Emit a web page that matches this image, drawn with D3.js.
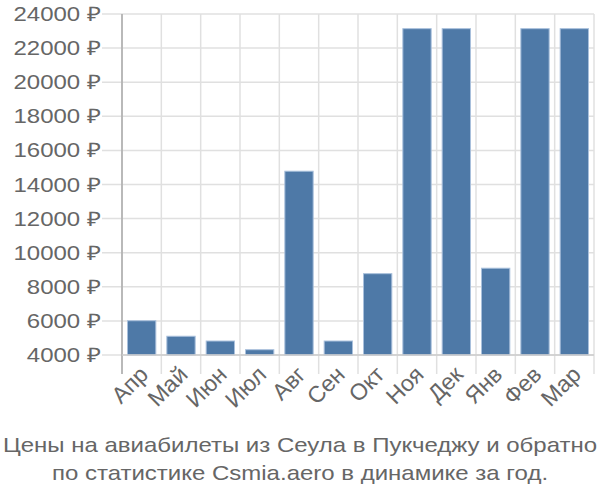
<!DOCTYPE html>
<html><head><meta charset="utf-8">
<script src="https://cdn.jsdelivr.net/npm/d3@7"></script>
<style>body{margin:0;background:#fff}svg{display:block}text{font-family:"Liberation Sans",Arial,sans-serif}</style>
</head><body><svg id="c" width="600" height="500"></svg>
<script>
const months = ["Апр","Май","Июн","Июл","Авг","Сен","Окт","Ноя","Дек","Янв","Фев","Мар"];
const prices = [6010, 5100, 4820, 4310, 14780, 4820, 8770, 23140, 23140, 9090, 23140, 23140];
const yTicks = [4000,6000,8000,10000,12000,14000,16000,18000,20000,22000,24000];
const titleLines = ["Цены на авиабилеты из Сеула в Пукчеджу и обратно","по статистике Csmia.aero в динамике за год."];

const svg = d3.select("#c");
const L=122, R=594, T=14, B=355;
const x = d3.scaleBand().domain(months).range([L,R]).paddingInner(0.28).paddingOuter(0.14);
const y = d3.scaleLinear().domain([4000,24000]).range([B,T]);
const step = x.step();
const SX = 1.2;

const g = svg.append("g");
g.selectAll("line.h").data(yTicks).enter().append("line")
 .attr("x1",L-20).attr("x2",R).attr("y1",d=>y(d)).attr("y2",d=>y(d))
 .attr("stroke","#e0e0e0").attr("stroke-width",1.5);
const edges = months.map((m,i)=>L+i*step).concat([R]);
g.selectAll("line.v").data(edges).enter().append("line")
 .attr("x1",d=>d).attr("x2",d=>d).attr("y1",T).attr("y2",B+19)
 .attr("stroke","#e0e0e0").attr("stroke-width",1.5);
g.append("line").attr("x1",L).attr("x2",L).attr("y1",T).attr("y2",B+19).attr("stroke","#aaa").attr("stroke-width",1.5);
g.selectAll("text.y").data(yTicks).enter().append("text")
 .attr("transform",d=>`translate(${L-21},${y(d)}) scale(${SX},1)`)
 .attr("dy","0.35em").attr("text-anchor","end")
 .attr("font-size",20).attr("fill","#666").text(d=>d+" ₽");
g.selectAll("rect").data(prices).enter().append("rect")
 .attr("x",(d,i)=>x(months[i])).attr("width",x.bandwidth())
 .attr("y",d=>y(d)).attr("height",d=>B-y(d))
 .attr("fill","#4e79a7").attr("stroke","#a9c0dc").attr("stroke-width",1);
g.append("line").attr("x1",L).attr("x2",R).attr("y1",B).attr("y2",B).attr("stroke","#ccc").attr("stroke-width",1.5);
g.selectAll("text.x").data(months).enter().append("text")
 .attr("transform",d=>`translate(${x(d)+x.bandwidth()/2+8},${B+21}) rotate(-45)`)
 .attr("text-anchor","end").attr("font-size",23).attr("fill","#666").text(d=>d);
svg.selectAll("text.t").data(titleLines).enter().append("text")
 .attr("transform",(d,i)=>`translate(300,${452+i*28}) scale(${SX},1)`).attr("text-anchor","middle")
 .attr("font-size",20).attr("fill","#666").text(d=>d);
</script></body></html>
